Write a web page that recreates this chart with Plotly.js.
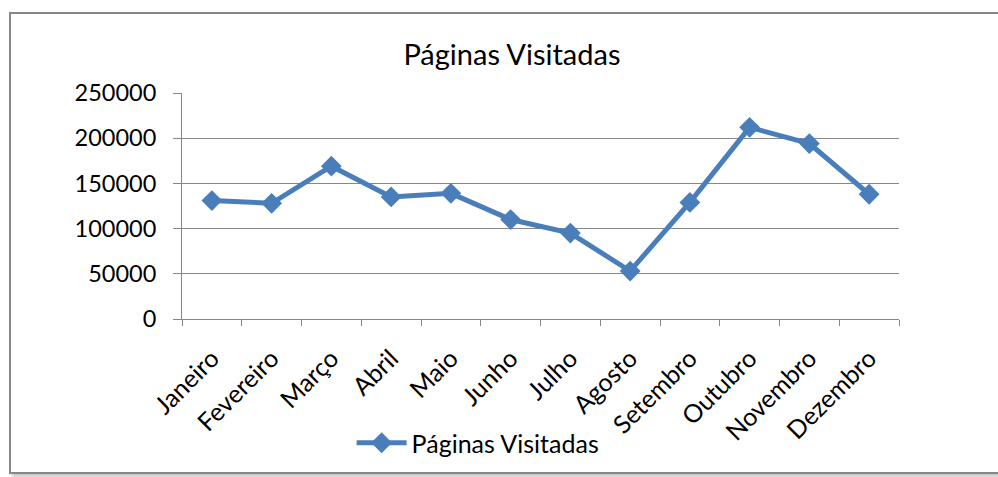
<!DOCTYPE html>
<html>
<head>
<meta charset="utf-8">
<script src="https://cdn.plot.ly/plotly-3.0.1.min.js"></script>
<style>
  html, body { margin: 0; padding: 0; background: #ffffff; width: 998px; height: 477px; overflow: hidden; }
  #frame { position: absolute; left: 9px; top: 12px; width: 1010px; height: 458px;
           border: 2px solid #878787; box-shadow: 3px 3px 3px #c8c8c8; background: #ffffff; }
  #chart { position: absolute; left: 0; top: 0; width: 998px; height: 477px; }
</style>
</head>
<body>
<div id="frame"></div>
<div id="chart"></div>
<script>
const months = ["Janeiro", "Fevereiro", "Março", "Abril", "Maio", "Junho",
                "Julho", "Agosto", "Setembro", "Outubro", "Novembro", "Dezembro"];
const paginasVisitadas = [131000, 128000, 169000, 135000, 139000, 110000,
                          95000, 53000, 129000, 212000, 194000, 138000];
const yTicks = [0, 50000, 100000, 150000, 200000, 250000];
const seriesName = "Páginas Visitadas";
const chartTitle = "Páginas Visitadas";

const FONT = "Lato, 'Open Sans', sans-serif";
const GRID = "#878787";

const trace = {
  type: "scatter",
  mode: "lines+markers",
  x: months,
  y: paginasVisitadas,
  name: seriesName,
  line: { color: "#4a7ebb", width: 5 },
  marker: { symbol: "diamond", size: 16, color: "#4a7ebb" },
  showlegend: true
};

const layout = {
  width: 998,
  height: 477,
  paper_bgcolor: "rgba(0,0,0,0)",
  plot_bgcolor: "rgba(0,0,0,0)",
  margin: { l: 182, r: 99, t: 93, b: 158 },
  font: { family: FONT, color: "#000000" },
  title: {
    text: chartTitle,
    font: { family: FONT, size: 29, color: "#000000" },
    x: 0.513, xanchor: "center",
    y: 1 - 55 / 477, yanchor: "middle", yref: "container"
  },
  xaxis: {
    type: "category",
    tickmode: "array",
    tickvals: months,
    ticktext: months,
    tickangle: -45,
    tickson: "boundaries",
    ticks: "outside",
    ticklen: 6,
    tickcolor: GRID,
    tickwidth: 1,
    showline: true,
    linecolor: GRID,
    linewidth: 1,
    showgrid: false,
    zeroline: false,
    ticklabelstandoff: 14,
    tickfont: { family: FONT, size: 25, color: "#000000" },
    range: [-0.5, 11.5],
    fixedrange: true
  },
  yaxis: {
    range: [0, 250000],
    tickmode: "array",
    tickvals: yTicks,
    ticktext: yTicks.map(String),
    ticks: "outside",
    ticklen: 8,
    tickcolor: GRID,
    tickwidth: 1,
    showline: true,
    linecolor: GRID,
    linewidth: 1,
    showgrid: true,
    gridcolor: GRID,
    gridwidth: 1,
    zeroline: false,
    ticklabelstandoff: 12,
    tickfont: { family: FONT, size: 23.5, color: "#000000" },
    fixedrange: true
  },
  legend: {
    orientation: "h",
    x: 0.413, xanchor: "center",
    y: 1 - 443 / 477, yanchor: "middle", yref: "container",
    font: { family: FONT, size: 25, color: "#000000" },
    bgcolor: "rgba(0,0,0,0)",
    itemwidth: 50
  },
  showlegend: true
};

Plotly.newPlot("chart", [trace], layout, { displayModeBar: false, staticPlot: true });
</script>
</body>
</html>
